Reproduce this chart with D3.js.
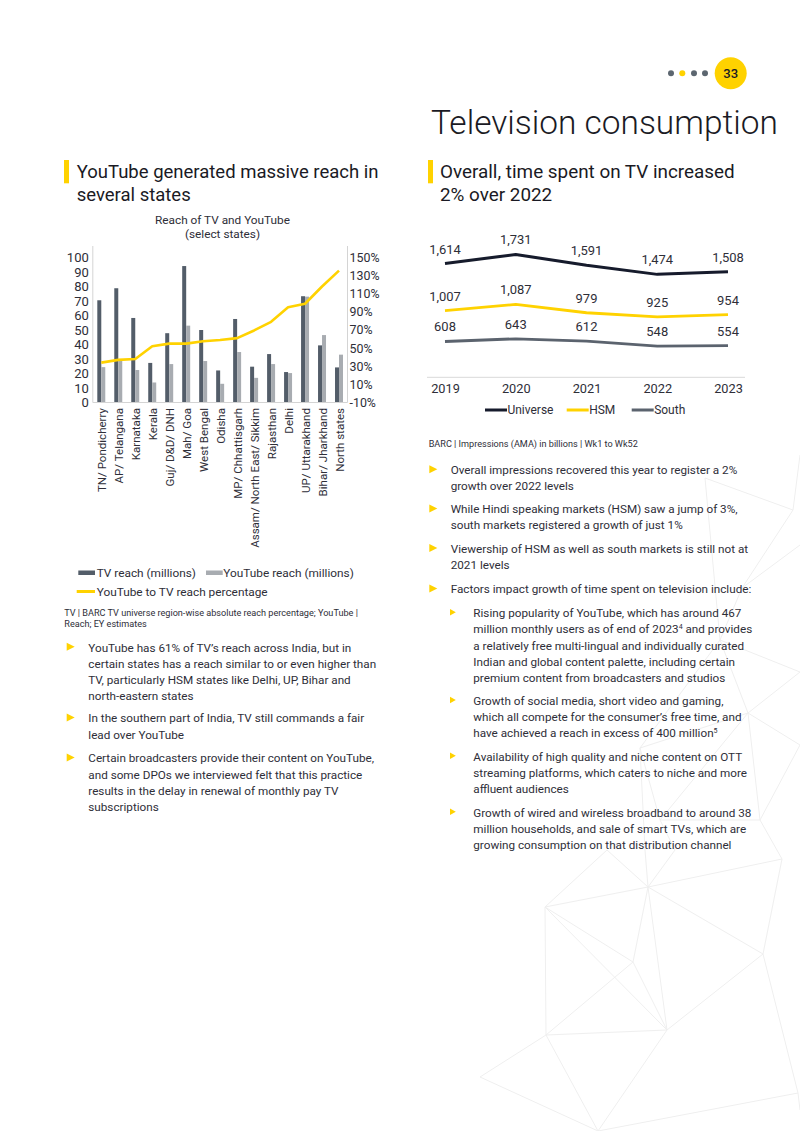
<!DOCTYPE html>
<html><head><meta charset="utf-8">
<script src="https://cdnjs.cloudflare.com/ajax/libs/d3/7.8.5/d3.min.js"></script>
<style>
html,body{margin:0;padding:0;background:#fff;}
svg{display:block;}
</style></head>
<body>
<svg id="page" width="800" height="1131"></svg>
<script>
// ---------------- DATA ----------------
const states = ["TN/ Pondicherry","AP/ Telangana","Karnataka","Kerala","Guj/ D&D/ DNH","Mah/ Goa","West Bengal","Odisha","MP/ Chhattisgarh","Assam/ North East/ Sikkim","Rajasthan","Delhi","UP/ Uttarakhand","Bihar/ Jharkhand","North states"];
const tvReach = [70.5, 78.8, 58.3, 27.3, 47.8, 94.1, 50.0, 22.1, 57.6, 24.7, 33.4, 21.0, 73.3, 39.4, 24.2];
const ytReach = [24.4, 28.8, 22.4, 13.8, 26.5, 53.0, 28.6, 12.9, 34.8, 17.0, 26.5, 20.3, 73.0, 46.5, 33.0];
const ytToTvPct = [34, 37, 38, 52, 55, 55, 57.5, 59, 61, 69.5, 79, 95, 99, 118, 135.5];
const leftTicks = [0,10,20,30,40,50,60,70,80,90,100];
const rightTicks = [-10,10,30,50,70,90,110,130,150];

const years = ["2019","2020","2021","2022","2023"];
const universe = [1614, 1731, 1591, 1474, 1508];
const hsm = [1007, 1087, 979, 925, 954];
const south = [608, 643, 612, 548, 554];

// ---------------- STYLE ----------------
const FONT = "Roboto, 'Noto Sans', sans-serif";
const TXT = "#2e2e38";
const YEL = "#ffd200";
const TVC = "#535d69";
const YTC = "#a8acb1";
const NAVY = "#161b2c";
const SOUTHC = "#5b636e";

const svg = d3.select("#page");

function sizeFor(str, targetW, weight) {
  const t = svg.append("text").attr("font-family", FONT).attr("font-weight", weight || 400)
    .attr("font-size", 100).text(str);
  const w = t.node().getComputedTextLength();
  t.remove();
  return 100 * targetW / w;
}

// ---------------- BACKGROUND NETWORK ----------------
const nodes = {
  a:[545,907], b:[648,887], c:[782,859], d:[633,962], e:[763,954], f:[546,1035], g:[667,1030],
  h:[480,1077], i:[798,1093], j:[598,1131], k:[607,850], l:[645,850], m:[675,850], n:[800,1110],
  p1:[705,478], p2:[793,510], p3:[742,588], p4:[800,545], p5:[800,672], p6:[748,713], p7:[800,745],
  p8:[640,748], p9:[720,640], p10:[660,820], p11:[800,455], p12:[760,820]
};
const edges = [["a","b"],["a","d"],["a","g"],["a","f"],["a","k"],["b","d"],["b","g"],["b","c"],["b","e"],["b","k"],["b","l"],["b","m"],
  ["c","e"],["e","g"],["e","i"],["d","g"],["d","f"],["f","g"],["f","h"],["f","j"],["g","j"],["h","j"],["j","i"],["i","n"],
  ["p1","p2"],["p2","p11"],["p1","p9"],["p2","p3"],["p3","p4"],["p3","p9"],["p9","p5"],["p9","p6"],["p6","p5"],["p6","p7"],
  ["p8","p6"],["p8","p9"],["p8","p10"],["p6","p12"],["p12","c"],["p10","m"],["p10","p12"],["p6","p10"],["p12","p7"],["l","p8"]];
svg.append("g").selectAll("line").data(edges).join("line")
  .attr("x1", d => nodes[d[0]][0]).attr("y1", d => nodes[d[0]][1])
  .attr("x2", d => nodes[d[1]][0]).attr("y2", d => nodes[d[1]][1])
  .attr("stroke", "#efefef").attr("stroke-width", 1);

// ---------------- HEADER ----------------
const dotsX = [671, 682.3, 694, 705];
svg.append("g").selectAll("circle").data(dotsX).join("circle")
  .attr("cx", d => d).attr("cy", 73.3).attr("r", 3)
  .attr("fill", (d,i) => i === 1 ? YEL : "#5c6670");
svg.append("circle").attr("cx", 730.7).attr("cy", 73.3).attr("r", 16).attr("fill", YEL);
svg.append("text").attr("x", 730.7).attr("y", 78).attr("text-anchor", "middle")
  .attr("font-family", FONT).attr("font-weight", 500).attr("font-size", 13).attr("fill", "#1a1a24").text("33");

const titleStr = "Television consumption";
svg.append("text").attr("x", 431).attr("y", 133.5).attr("font-family", FONT).attr("font-weight", 300)
  .attr("font-size", sizeFor(titleStr, 347, 300)).attr("fill", "#1a1a24").text(titleStr);

// section headings
function heading(x, barX, lines, w) {
  svg.append("rect").attr("x", barX).attr("y", 160).attr("width", 5).attr("height", 23.3).attr("fill", YEL);
  const fs = sizeFor(lines[0], w, 400);
  lines.forEach((s, i) => svg.append("text").attr("x", x).attr("y", 178.3 + i * 22.2)
    .attr("font-family", FONT).attr("font-weight", 400).attr("font-size", fs).attr("fill", "#1a1a24").text(s));
}
heading(76.7, 64, ["YouTube generated massive reach in", "several states"], 302);
heading(440, 428, ["Overall, time spent on TV increased", "2% over 2022"], 295);

// ---------------- LEFT CHART ----------------
const lc = svg.append("g");
const t1 = "Reach of TV and YouTube";
const ctfs = sizeFor(t1, 135);
lc.append("text").attr("x", 222.5).attr("y", 224).attr("text-anchor", "middle").attr("font-family", FONT)
  .attr("font-size", ctfs).attr("fill", TXT).text(t1);
lc.append("text").attr("x", 222.5).attr("y", 237.7).attr("text-anchor", "middle").attr("font-family", FONT)
  .attr("font-size", ctfs).attr("fill", TXT).text("(select states)");

const x = d3.scaleBand().domain(states).range([92.8, 347.5]).paddingInner(0.53).paddingOuter(0.265);
const y = d3.scaleLinear().domain([0, 100]).range([402.5, 257.5]);
const y2 = d3.scaleLinear().domain([-10, 150]).range([402.5, 257.5]);
const bw = x.bandwidth() / 2;

// axis frame lines
lc.append("line").attr("x1", 92.8).attr("x2", 92.8).attr("y1", 246).attr("y2", 402.5).attr("stroke", "#d4d4d4");
lc.append("line").attr("x1", 347.5).attr("x2", 347.5).attr("y1", 246).attr("y2", 402.5).attr("stroke", "#d4d4d4");

const axfs = sizeFor("100", 22);
const la = lc.append("g").attr("transform", "translate(92.8,0)")
  .call(d3.axisLeft(y).tickValues(leftTicks).tickSize(0).tickPadding(4).tickFormat(d3.format("d")));
la.select(".domain").remove();
la.selectAll("text").attr("font-family", FONT).attr("font-size", axfs).attr("fill", TXT);
const ra = lc.append("g").attr("transform", "translate(347.5,0)")
  .call(d3.axisRight(y2).tickValues(rightTicks).tickSize(0).tickPadding(2).tickFormat(d => d + "%"));
ra.select(".domain").remove();
ra.selectAll("text").attr("font-family", FONT).attr("font-size", sizeFor("150%", 30)).attr("fill", TXT);

lc.append("g").selectAll("rect.tv").data(states).join("rect")
  .attr("x", d => x(d)).attr("width", bw)
  .attr("y", (d,i) => y(tvReach[i])).attr("height", (d,i) => y(0) - y(tvReach[i])).attr("fill", TVC);
lc.append("g").selectAll("rect.yt").data(states).join("rect")
  .attr("x", d => x(d) + bw).attr("width", bw)
  .attr("y", (d,i) => y(ytReach[i])).attr("height", (d,i) => y(0) - y(ytReach[i])).attr("fill", YTC);
lc.append("line").attr("x1", 92.8).attr("x2", 347.5).attr("y1", 402.5).attr("y2", 402.5).attr("stroke", "#d4d4d4");

const line1 = d3.line().x((d,i) => x(states[i]) + x.bandwidth() / 2).y(d => y2(d));
lc.append("path").datum(ytToTvPct).attr("d", line1).attr("fill", "none").attr("stroke", YEL)
  .attr("stroke-width", 2.6).attr("stroke-linejoin", "round");

const catfs = sizeFor("Assam/ North East/ Sikkim", 140);
lc.append("g").selectAll("text").data(states).join("text")
  .attr("transform", d => `translate(${x(d) + x.bandwidth() / 2 + 1},408) rotate(-90)`)
  .attr("text-anchor", "end").attr("dy", "0.35em")
  .attr("font-family", FONT).attr("font-size", catfs).attr("fill", TXT).text(d => d);

// legend
const lgfs = sizeFor("YouTube reach (millions)", 130.7);
lc.append("rect").attr("x", 78.3).attr("y", 570.5).attr("width", 16.7).attr("height", 4.5).attr("fill", TVC);
lc.append("text").attr("x", 96.7).attr("y", 576.7).attr("font-family", FONT).attr("font-size", lgfs).attr("fill", TXT).text("TV reach (millions)");
lc.append("rect").attr("x", 206).attr("y", 570.5).attr("width", 16.7).attr("height", 4.5).attr("fill", YTC);
lc.append("text").attr("x", 223.3).attr("y", 576.7).attr("font-family", FONT).attr("font-size", lgfs).attr("fill", TXT).text("YouTube reach (millions)");
lc.append("line").attr("x1", 76.7).attr("x2", 95).attr("y1", 591.5).attr("y2", 591.5).attr("stroke", YEL).attr("stroke-width", 3);
lc.append("text").attr("x", 96.7).attr("y", 595.5).attr("font-family", FONT).attr("font-size", lgfs).attr("fill", TXT).text("YouTube to TV reach percentage");

// ---------------- RIGHT CHART ----------------
const rc = svg.append("g");
const xp = d3.scalePoint().domain(years).range([445, 728]);
const yp = d3.scaleLinear().domain([150, 2000]).range([377, 233.6]);
rc.append("line").attr("x1", 427).attr("x2", 745).attr("y1", 377.3).attr("y2", 377.3).attr("stroke", "#d9d9d9");
const yrfs = sizeFor("2019", 28.7);
const xa = rc.append("g").attr("transform", "translate(0,377.3)")
  .call(d3.axisBottom(xp).tickSize(0).tickPadding(0));
xa.select(".domain").remove();
xa.selectAll("text").attr("dy", null).attr("y", 15.4).attr("font-family", FONT).attr("font-size", yrfs).attr("fill", TXT);

const seriesList = [
  {name: "Universe", vals: universe, color: NAVY, w: 3},
  {name: "HSM", vals: hsm, color: YEL, w: 2.8},
  {name: "South", vals: south, color: SOUTHC, w: 2.8}
];
const lp = d3.line().x((d,i) => xp(years[i])).y(d => yp(d));
const dlfs = sizeFor("1,614", 31.7);
seriesList.forEach(s => {
  rc.append("path").datum(s.vals).attr("d", lp).attr("fill", "none").attr("stroke", s.color)
    .attr("stroke-width", s.w).attr("stroke-linejoin", "round");
  rc.append("g").selectAll("text").data(s.vals).join("text")
    .attr("x", (d,i) => xp(years[i])).attr("y", d => yp(d) - 10).attr("text-anchor", "middle")
    .attr("font-family", FONT).attr("font-size", dlfs).attr("fill", TXT).text(d => d3.format(",")(d));
});
const legX = [485, 566.7, 631.7];
const legfs = sizeFor("Universe", 46);
seriesList.forEach((s, i) => {
  rc.append("line").attr("x1", legX[i]).attr("x2", legX[i] + 22).attr("y1", 410).attr("y2", 410)
    .attr("stroke", s.color).attr("stroke-width", 3);
  rc.append("text").attr("x", legX[i] + 22.5).attr("y", 414.3).attr("font-family", FONT)
    .attr("font-size", legfs).attr("fill", TXT).text(s.name);
});

// ---------------- TEXT BLOCKS ----------------
function tri(xl, yc) {
  svg.append("path").attr("d", `M${xl},${yc - 4}L${xl + 8},${yc}L${xl},${yc + 4}Z`).attr("fill", YEL);
}
function lines(xl, y0, arr, fs, step) {
  arr.forEach((s, i) => {
    const t = svg.append("text").attr("x", xl).attr("y", y0 + i * step).attr("font-family", FONT)
      .attr("font-size", fs).attr("fill", TXT);
    if (Array.isArray(s)) {
      t.append("tspan").text(s[0]);
      t.append("tspan").attr("font-size", fs * 0.6).attr("dy", -fs * 0.4).text(s[1]);
      t.append("tspan").attr("dy", fs * 0.4).text(s[2]);
    } else t.text(s);
  });
}
const srcfs = sizeFor("TV | BARC TV universe region-wise absolute reach percentage; YouTube |", 294);
lines(64.3, 616, ["TV | BARC TV universe region-wise absolute reach percentage; YouTube |", "Reach; EY estimates"], srcfs, 10.7);
lines(428.7, 446.7, ["BARC | Impressions (AMA) in billions | Wk1 to Wk52"], srcfs, 10.7);

const bfs = sizeFor("certain states has a reach similar to or even higher than", 288);
const leftBullets = [
  {y: 651.5, l: ["YouTube has 61% of TV\u2019s reach across India, but in", "certain states has a reach similar to or even higher than", "TV, particularly HSM states like Delhi, UP, Bihar and", "north-eastern states"]},
  {y: 722.3, l: ["In the southern part of India, TV still commands a fair", "lead over YouTube"]},
  {y: 762.3, l: ["Certain broadcasters provide their content on YouTube,", "and some DPOs we interviewed felt that this practice", "results in the delay in renewal of monthly pay TV", "subscriptions"]}
];
leftBullets.forEach(b => { tri(66.7, b.y - 4.7); lines(88.3, b.y, b.l, bfs, 16.2); });

const rightBullets = [
  {y: 474, l: ["Overall impressions recovered this year to register a 2%", "growth over 2022 levels"]},
  {y: 513.3, l: ["While Hindi speaking markets (HSM) saw a jump of 3%,", "south markets registered a growth of just 1%"]},
  {y: 552.7, l: ["Viewership of HSM as well as south markets is still not at", "2021 levels"]},
  {y: 593.3, l: ["Factors impact growth of time spent on television include:"]}
];
rightBullets.forEach(b => { tri(429.3, b.y - 4.7); lines(450.7, b.y, b.l, bfs, 16); });

const subBullets = [
  {y: 617.3, l: ["Rising popularity of YouTube, which has around 467", ["million monthly users as of end of 2023", "4", " and provides"], "a relatively free multi-lingual and individually curated", "Indian and global content palette, including certain", "premium content from broadcasters and studios"]},
  {y: 705, l: ["Growth of social media, short video and gaming,", "which all compete for the consumer\u2019s free time, and", ["have achieved a reach in excess of 400 million", "5", ""]]},
  {y: 760.7, l: ["Availability of high quality and niche content on OTT", "streaming platforms, which caters to niche and more", "affluent audiences"]},
  {y: 816.7, l: ["Growth of wired and wireless broadband to around 38", "million households, and sale of smart TVs, which are", "growing consumption on that distribution channel"]}
];
subBullets.forEach(b => {
  svg.append("path").attr("d", `M450,${b.y - 8.3}L455.8,${b.y - 5}L450,${b.y - 1.7}Z`).attr("fill", YEL);
  lines(473.3, b.y, b.l, bfs, 16.1);
});
</script>
</body></html>
